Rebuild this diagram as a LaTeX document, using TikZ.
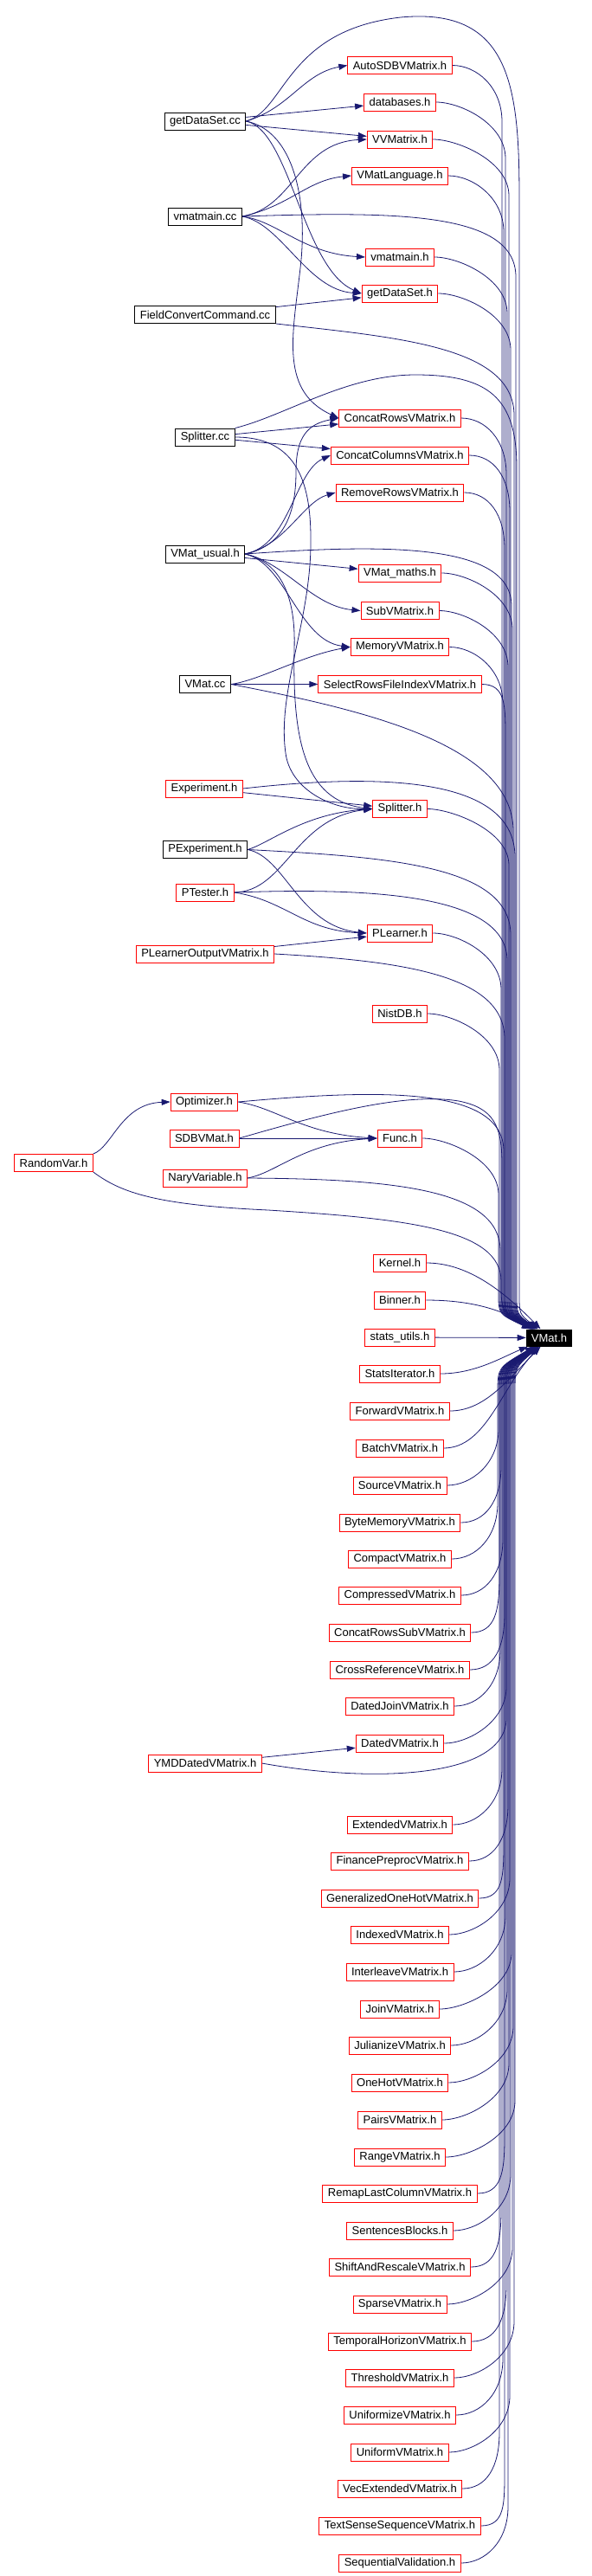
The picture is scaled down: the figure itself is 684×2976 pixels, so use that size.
\documentclass[tikz,border=0pt]{standalone}
\usepackage{fontspec}
\setmainfont{Liberation Sans}
\usetikzlibrary{arrows.meta,backgrounds}
\definecolor{depblue}{RGB}{25,25,112}
\definecolor{boxred}{RGB}{255,0,0}

\begin{document}
\begin{tikzpicture}[x=1pt,y=-1pt,every node/.style={font=\fontsize{13}{15}\selectfont},
    hfile/.style={draw=boxred,fill=white,line width=0.9pt,minimum height=20pt,
                  inner xsep=6pt,inner ysep=0pt},
    srcfile/.style={hfile,draw=black},
    target/.style={fill=black,text=white,minimum height=20pt,inner xsep=6pt,inner ysep=0pt},
    dep/.style={draw=depblue,line width=0.8pt,-{Triangle[length=10pt,width=7pt]}}]
  \useasboundingbox (0,0) rectangle (684,2976);
  \node[target] (vmat) at (634.5,1545.5) {VMat.h};
  % middle column, above VMat.h
  \foreach \n/\y/\lbl in {autosdb/75.5/AutoSDBVMatrix.h, databases/118/databases.h,
      vvmatrix/161/VVMatrix.h, vmatlang/203/VMatLanguage.h, vmatmainh/297/vmatmain.h,
      getdatah/339/getDataSet.h, concatrows/483/ConcatRowsVMatrix.h,
      concatcols/526/ConcatColumnsVMatrix.h, removerows/569/RemoveRowsVMatrix.h,
      vmatmaths/662/VMat\_maths.h, subvm/705.5/SubVMatrix.h, memoryvm/747.5/MemoryVMatrix.h,
      selectrows/790.5/SelectRowsFileIndexVMatrix.h, splitterh/934.5/Splitter.h,
      plearner/1078/PLearner.h, nistdb/1171/NistDB.h, func/1315/Func.h, kernel/1459/Kernel.h,
      binner/1502/Binner.h, statsutils/1545/stats\_utils.h}
    \node[hfile] (\n) at (462,\y) {\lbl};
  % middle column, below VMat.h
  \foreach \n/\y/\lbl in {statsiter/1587/StatsIterator.h, forward/1630/ForwardVMatrix.h,
      batch/1673/BatchVMatrix.h, source/1716/SourceVMatrix.h, bytemem/1759/ByteMemoryVMatrix.h,
      compact/1801/CompactVMatrix.h, compressed/1843/CompressedVMatrix.h,
      concatsub/1886/ConcatRowsSubVMatrix.h, crossref/1929/CrossReferenceVMatrix.h,
      datedjoin/1971/DatedJoinVMatrix.h, dated/2014/DatedVMatrix.h,
      extended/2108/ExtendedVMatrix.h, finance/2150/FinancePreprocVMatrix.h,
      genonehot/2193/GeneralizedOneHotVMatrix.h, indexed/2235/IndexedVMatrix.h,
      interleave/2278/InterleaveVMatrix.h, join/2321/JoinVMatrix.h,
      julianize/2363/JulianizeVMatrix.h, onehot/2406/OneHotVMatrix.h, pairs/2449/PairsVMatrix.h,
      range/2492/RangeVMatrix.h, remap/2534/RemapLastColumnVMatrix.h,
      sentences/2577/SentencesBlocks.h, shift/2619/ShiftAndRescaleVMatrix.h,
      sparse/2662/SparseVMatrix.h, temporal/2705/TemporalHorizonVMatrix.h,
      threshold/2747/ThresholdVMatrix.h, uniformize/2790/UniformizeVMatrix.h,
      uniform/2833/UniformVMatrix.h, vecext/2875/VecExtendedVMatrix.h,
      textsense/2918/TextSenseSequenceVMatrix.h, seqval/2961/SequentialValidation.h}
    \node[hfile] (\n) at (462,\y) {\lbl};
  % left column
  \node[srcfile] (getdatacc)   at (237,140)    {getDataSet.cc};
  \node[srcfile] (vmatmaincc)  at (237,250)    {vmatmain.cc};
  \node[srcfile] (fieldconv)   at (237,363.5)  {FieldConvertCommand.cc};
  \node[srcfile] (splittercc)  at (237,505)    {Splitter.cc};
  \node[srcfile] (vmatusual)   at (237,640)    {VMat\_usual.h};
  \node[srcfile] (vmatcc)      at (237,790.5)  {VMat.cc};
  \node[hfile]   (experiment)  at (236,911)    {Experiment.h};
  \node[srcfile] (pexperiment) at (237,981.5)  {PExperiment.h};
  \node[hfile]   (ptester)     at (237,1031)   {PTester.h};
  \node[hfile]   (ploutput)    at (237,1102)   {PLearnerOutputVMatrix.h};
  \node[hfile]   (optimizer)   at (236,1273)   {Optimizer.h};
  \node[hfile]   (sdbvmat)     at (236,1315)   {SDBVMat.h};
  \node[hfile]   (naryvar)     at (237,1361)   {NaryVariable.h};
  \node[hfile]   (ymddated)    at (237,2037)   {YMDDatedVMatrix.h};
  \node[hfile]   (randomvar)   at (62,1343.5)  {RandomVar.h};

  \begin{scope}[on background layer]
  % direct includes of VMat.h
  \foreach \n/\y/\lane in {autosdb/75.5/580, databases/118/584, vvmatrix/161/588,
      vmatlang/203/582, vmatmainh/297/586, getdatah/339/590, concatrows/483/585,
      concatcols/526/589, removerows/569/583, vmatmaths/662/592, subvm/705.5/587,
      memoryvm/747.5/581, selectrows/790.5/584, splitterh/934.5/588, plearner/1078/579,
      nistdb/1171/577, func/1315/576}
    \draw[dep] (\n.east) .. controls +(28,0) and (\lane,\y+25) .. (\lane,\y+65)
      -- (\lane,1495) .. controls (\lane,1518) .. (vmat);
  \foreach \n/\y/\lane in {source/1716/576, bytemem/1759/579, compact/1801/575,
      compressed/1843/581, concatsub/1886/577, crossref/1929/583, datedjoin/1971/578,
      dated/2014/585, extended/2108/580, finance/2150/587, genonehot/2193/582,
      indexed/2235/589, interleave/2278/584, join/2321/591, julianize/2363/586,
      onehot/2406/593, pairs/2449/588, range/2492/595, remap/2534/583, sentences/2577/590,
      shift/2619/579, sparse/2662/592, temporal/2705/585, threshold/2747/594,
      uniformize/2790/581, uniform/2833/589, vecext/2875/577, textsense/2918/583,
      seqval/2961/587}
    \draw[dep] (\n.east) .. controls +(28,0) and (\lane,\y-25) .. (\lane,\y-65)
      -- (\lane,1610) .. controls (\lane,1580) .. (vmat);
  \draw[dep] (kernel.east) .. controls +(50,0) and (585,1495) .. (vmat);
  \draw[dep] (binner.east) .. controls +(50,0) and (578,1512) .. (vmat);
  \draw[dep] (statsutils) -- (vmat);
  \draw[dep] (statsiter.east) .. controls +(40,0) and (580,1568) .. (vmat);
  \draw[dep] (forward.east) .. controls +(40,0) and (586,1595) .. (vmat);
  \draw[dep] (batch.east) .. controls +(50,0) and (580,1600) .. (vmat);
  \draw[dep] (getdatacc.east) .. controls (330,128) and (330,35) .. (463,20)
    .. controls (590,8) and (600,100) .. (600,230) -- (600,1495) .. controls (600,1518) .. (vmat);
  \draw[dep] (vmatmaincc.east) .. controls (460,244) and (596,245) .. (596,320)
    -- (596,1495) .. controls (596,1518) .. (vmat);
  \draw[dep] (fieldconv.south east) .. controls (460,390) and (594,400) .. (594,480)
    -- (594,1495) .. controls (594,1518) .. (vmat);
  \draw[dep] (splittercc.north east) .. controls (330,480) and (400,433) .. (480,433)
    .. controls (565,433) and (597,460) .. (597,540) -- (597,1495) .. controls (597,1518) .. (vmat);
  \draw[dep] (vmatusual.east) .. controls (450,628) and (591,628) .. (591,700)
    -- (591,1495) .. controls (591,1518) .. (vmat);
  \draw[dep] (vmatcc.east) .. controls (420,820) and (593,860) .. (593,960)
    -- (593,1495) .. controls (593,1518) .. (vmat);
  \draw[dep] (experiment.east) .. controls (450,892) and (595,900) .. (595,990)
    -- (595,1495) .. controls (595,1518) .. (vmat);
  \draw[dep] (pexperiment.east) .. controls (450,990) and (590,1000) .. (590,1080)
    -- (590,1495) .. controls (590,1518) .. (vmat);
  \draw[dep] (ptester.east) .. controls (440,1025) and (586,1035) .. (586,1110)
    -- (586,1495) .. controls (586,1518) .. (vmat);
  \draw[dep] (ploutput.east) .. controls (460,1110) and (583,1125) .. (583,1200)
    -- (583,1495) .. controls (583,1518) .. (vmat);
  \draw[dep] (optimizer.east) .. controls (440,1258) and (582,1255) .. (582,1330)
    -- (582,1495) .. controls (582,1518) .. (vmat);
  \draw[dep] (sdbvmat.east) .. controls (380,1285) and (470,1262) .. (530,1272)
    .. controls (570,1280) and (580,1300) .. (580,1345) -- (580,1495) .. controls (580,1518) .. (vmat);
  \draw[dep] (naryvar.east) .. controls (460,1362) and (578,1375) .. (578,1445)
    -- (578,1495) .. controls (578,1518) .. (vmat);
  \draw[dep] (randomvar.south east) .. controls (140,1378) and (180,1392) .. (310,1398)
    .. controls (470,1408) and (579,1420) .. (579,1480) .. controls (579,1515) .. (vmat);
  \draw[dep] (ymddated.east) .. controls (430,2060) and (585,2055) .. (585,1985)
    -- (585,1610) .. controls (585,1580) .. (vmat);
  % includes between the other files
  \draw[dep] (getdatacc.east) .. controls (335,125) and (350,85) .. (autosdb.west);
  \draw[dep] (getdatacc) -- (databases);
  \draw[dep] (getdatacc) -- (vvmatrix);
  \draw[dep] (getdatacc.east) .. controls (335,150) and (350,310) .. (getdatah.west);
  \draw[dep] (getdatacc.east) .. controls (335,150) and (355,220) .. (348,300)
    .. controls (340,380) and (320,450) .. (concatrows.west);
  \draw[dep] (vmatmaincc.east) .. controls (340,240) and (345,165) .. (vvmatrix.west);
  \draw[dep] (vmatmaincc.east) .. controls (335,238) and (355,208) .. (vmatlang.west);
  \draw[dep] (vmatmaincc.east) .. controls (320,255) and (350,293) .. (vmatmainh.west);
  \draw[dep] (vmatmaincc.east) .. controls (325,258) and (355,335) .. (getdatah.west);
  \draw[dep] (fieldconv) -- (getdatah);
  \draw[dep] (splittercc) -- (concatrows);
  \draw[dep] (splittercc) -- (concatcols);
  \draw[dep] (splittercc.east) .. controls (345,505) and (360,560) .. (359,630)
    .. controls (358,720) and (320,800) .. (330,870) .. controls (335,910) and (380,935) .. (splitterh.west);
  \draw[dep] (vmatusual.east) .. controls (330,630) and (342,590) .. (342,545)
    .. controls (342,505) and (355,490) .. (concatrows.west);
  \draw[dep] (vmatusual.east) .. controls (335,630) and (340,545) .. (concatcols.west);
  \draw[dep] (vmatusual.east) .. controls (330,630) and (350,580) .. (removerows.west);
  \draw[dep] (vmatusual) -- (vmatmaths);
  \draw[dep] (vmatusual.east) .. controls (330,650) and (360,700) .. (subvm.west);
  \draw[dep] (vmatusual.east) .. controls (330,650) and (345,740) .. (memoryvm.west);
  \draw[dep] (vmatusual.east) .. controls (325,650) and (342,690) .. (340,750)
    .. controls (338,850) and (350,925) .. (splitterh.west);
  \draw[dep] (vmatcc.east) .. controls (300,786) and (350,757) .. (memoryvm.west);
  \draw[dep] (vmatcc) -- (selectrows);
  \draw[dep] (experiment) -- (splitterh);
  \draw[dep] (pexperiment.east) .. controls (310,975) and (350,940) .. (splitterh.west);
  \draw[dep] (pexperiment.east) .. controls (330,990) and (345,1070) .. (plearner.west);
  \draw[dep] (ptester.east) .. controls (330,1030) and (340,945) .. (splitterh.west);
  \draw[dep] (ptester.east) .. controls (330,1040) and (350,1075) .. (plearner.west);
  \draw[dep] (ploutput) -- (plearner);
  \draw[dep] (randomvar.north east) .. controls (130,1325) and (140,1275) .. (optimizer.west);
  \draw[dep] (optimizer.east) .. controls (320,1280) and (350,1310) .. (func.west);
  \draw[dep] (sdbvmat) -- (func);
  \draw[dep] (naryvar.east) .. controls (320,1355) and (350,1320) .. (func.west);
  \draw[dep] (ymddated) -- (dated);
  \end{scope}
\end{tikzpicture}
\end{document}
